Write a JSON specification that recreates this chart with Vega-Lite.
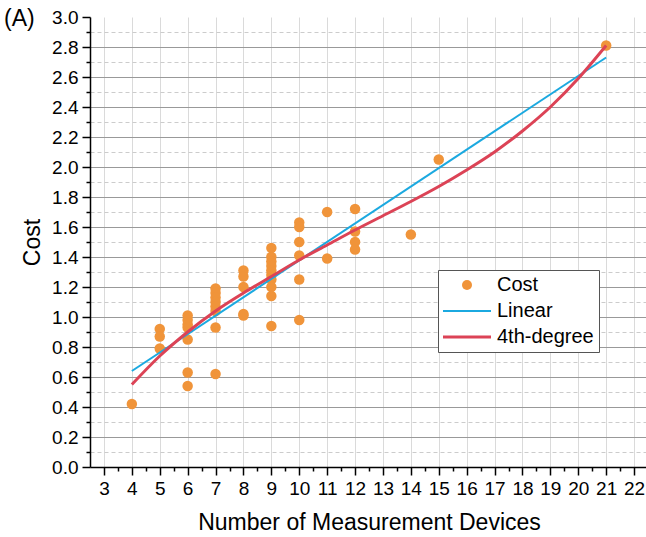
{
  "$schema": "https://vega.github.io/schema/vega-lite/v6.json",
  "width": 558,
  "height": 450,
  "autosize": {"type": "none"},
  "padding": {"left": 90, "top": 17, "right": 0, "bottom": 70},
  "background": "white",
  "title": {"text": "(A)", "anchor": "start", "frame": "group", "orient": "top", "offset": -46, "dx": -86, "baseline": "bottom", "fontSize": 23, "fontWeight": "normal", "font": "Liberation Sans", "color": "black"},
  "config": {
    "view": {"stroke": null},
    "font": "Liberation Sans",
    "axis": {"labelFont": "Liberation Sans", "titleFont": "Liberation Sans", "labelColor": "black", "titleColor": "black", "domainColor": "black", "tickColor": "black"}
  },
  "datasets": {
    "cost": [
      {"n": 4, "cost": 0.42},
      {"n": 5, "cost": 0.92}, {"n": 5, "cost": 0.87}, {"n": 5, "cost": 0.79},
      {"n": 6, "cost": 1.01}, {"n": 6, "cost": 0.98}, {"n": 6, "cost": 0.95}, {"n": 6, "cost": 0.93}, {"n": 6, "cost": 0.85}, {"n": 6, "cost": 0.63}, {"n": 6, "cost": 0.54},
      {"n": 7, "cost": 1.19}, {"n": 7, "cost": 1.16}, {"n": 7, "cost": 1.13}, {"n": 7, "cost": 1.1}, {"n": 7, "cost": 1.07}, {"n": 7, "cost": 1.04}, {"n": 7, "cost": 0.93}, {"n": 7, "cost": 0.62},
      {"n": 8, "cost": 1.31}, {"n": 8, "cost": 1.27}, {"n": 8, "cost": 1.2}, {"n": 8, "cost": 1.02}, {"n": 8, "cost": 1.01},
      {"n": 9, "cost": 1.46}, {"n": 9, "cost": 1.4}, {"n": 9, "cost": 1.37}, {"n": 9, "cost": 1.34}, {"n": 9, "cost": 1.31}, {"n": 9, "cost": 1.28}, {"n": 9, "cost": 1.25}, {"n": 9, "cost": 1.2}, {"n": 9, "cost": 1.14}, {"n": 9, "cost": 0.94},
      {"n": 10, "cost": 1.63}, {"n": 10, "cost": 1.6}, {"n": 10, "cost": 1.5}, {"n": 10, "cost": 1.41}, {"n": 10, "cost": 1.25}, {"n": 10, "cost": 0.98},
      {"n": 11, "cost": 1.7}, {"n": 11, "cost": 1.39},
      {"n": 12, "cost": 1.72}, {"n": 12, "cost": 1.57}, {"n": 12, "cost": 1.5}, {"n": 12, "cost": 1.45},
      {"n": 14, "cost": 1.55},
      {"n": 15, "cost": 2.05},
      {"n": 21, "cost": 2.81}
    ],
    "linear": [
      {"n": 4, "cost": 0.64}, {"n": 21, "cost": 2.73}
    ],
    "poly": [
      {"n": 4, "cost": 0.55}, {"n": 5, "cost": 0.74}, {"n": 6, "cost": 0.9}, {"n": 7, "cost": 1.04},
      {"n": 8, "cost": 1.16}, {"n": 9, "cost": 1.27}, {"n": 10, "cost": 1.38}, {"n": 11, "cost": 1.48},
      {"n": 12, "cost": 1.58}, {"n": 13, "cost": 1.675}, {"n": 14, "cost": 1.77}, {"n": 15, "cost": 1.87},
      {"n": 16, "cost": 1.98}, {"n": 17, "cost": 2.1}, {"n": 18, "cost": 2.24}, {"n": 19, "cost": 2.4},
      {"n": 20, "cost": 2.59}, {"n": 21, "cost": 2.81}
    ]
  },
  "resolve": {"axis": {"x": "independent", "y": "independent"}},
  "layer": [
    {
      "data": {"name": "cost"},
      "transform": [{"calculate": "'Cost'", "as": "series"}],
      "mark": {"type": "point", "filled": true, "opacity": 1, "size": 110},
      "encoding": {
        "x": {"field": "n", "type": "quantitative", "scale": {"domain": [2.5, 22.5], "nice": false, "zero": false},
          "axis": {"orient": "bottom", "title": "Number of Measurement Devices", "values": [3,4,5,6,7,8,9,10,11,12,13,14,15,16,17,18,19,20,21,22],
            "labelFontSize": 19, "titleFontSize": 23, "titleFontWeight": "normal", "labelPadding": 4, "titlePadding": 13,
            "tickSize": 8, "tickWidth": 1.5, "domainWidth": 1.5, "grid": true, "gridColor": "#dadada", "gridWidth": 1, "labelFlush": false}},
        "y": {"field": "cost", "type": "quantitative", "scale": {"domain": [0, 3], "nice": false, "zero": true},
          "axis": {"orient": "left", "title": "Cost", "values": [0,0.2,0.4,0.6,0.8,1.0,1.2,1.4,1.6,1.8,2.0,2.2,2.4,2.6,2.8,3.0], "format": ".1f",
            "labelFontSize": 19, "titleFontSize": 23, "titleFontWeight": "normal", "labelPadding": 4, "titlePadding": 7,
            "tickSize": 8, "tickWidth": 1.5, "domainWidth": 1.5, "grid": true, "gridColor": "#999999", "gridWidth": 1.2,
            "gridOpacity": {"condition": {"test": "datum.value >= 3 || datum.value <= 0", "value": 0}, "value": 1}, "labelFlush": false}},
        "color": {"field": "series", "type": "nominal",
          "scale": {"domain": ["Cost", "Linear", "4th-degree"], "range": ["#F0943A", "#1BA9E0", "#DC4356"]},
          "legend": {"title": null, "orient": "none", "legendX": 348, "legendY": 253, "direction": "vertical",
            "fillColor": "white", "strokeColor": "#555555", "padding": 5, "labelFontSize": 20, "labelColor": "black", "labelFont": "Liberation Sans",
            "symbolSize": 100, "symbolOffset": 14, "labelOffset": 20, "rowPadding": 6, "cornerRadius": 0,
            "encoding": {"symbols": {
              "shape": {"value": {"expr": "datum.value === 'Cost' ? 'circle' : 'stroke'"}},
              "size": {"value": {"expr": "datum.value === 'Cost' ? 100 : 2304"}},
              "fill": {"value": {"expr": "scale('color', datum.value)"}},
              "stroke": {"value": {"expr": "scale('color', datum.value)"}},
              "strokeWidth": {"value": {"expr": "datum.value === 'Cost' ? 0 : (datum.value === 'Linear' ? 2 : 3)"}},
              "opacity": {"value": 1}
            }}}}
      }
    },
    {
      "data": {"name": "linear"},
      "mark": {"type": "line", "color": "#1BA9E0", "strokeWidth": 2},
      "encoding": {
        "x": {"field": "n", "type": "quantitative",
          "axis": {"orient": "bottom", "title": null, "labels": false, "values": [3.5,4.5,5.5,6.5,7.5,8.5,9.5,10.5,11.5,12.5,13.5,14.5,15.5,16.5,17.5,18.5,19.5,20.5,21.5],
            "tickSize": 4, "tickWidth": 1.5, "domain": false, "grid": false}},
        "y": {"field": "cost", "type": "quantitative",
          "axis": {"orient": "left", "title": null, "labels": false, "values": [0.1,0.3,0.5,0.7,0.9,1.1,1.3,1.5,1.7,1.9,2.1,2.3,2.5,2.7,2.9],
            "tickSize": 4, "tickWidth": 1.5, "domain": false, "grid": true, "gridColor": "#cccccc", "gridDash": [4, 3], "gridWidth": 1}}
      }
    },
    {
      "data": {"name": "poly"},
      "mark": {"type": "line", "color": "#DC4356", "strokeWidth": 3, "interpolate": "monotone"},
      "encoding": {
        "x": {"field": "n", "type": "quantitative", "axis": null},
        "y": {"field": "cost", "type": "quantitative", "axis": null}
      }
    }
  ]
}
